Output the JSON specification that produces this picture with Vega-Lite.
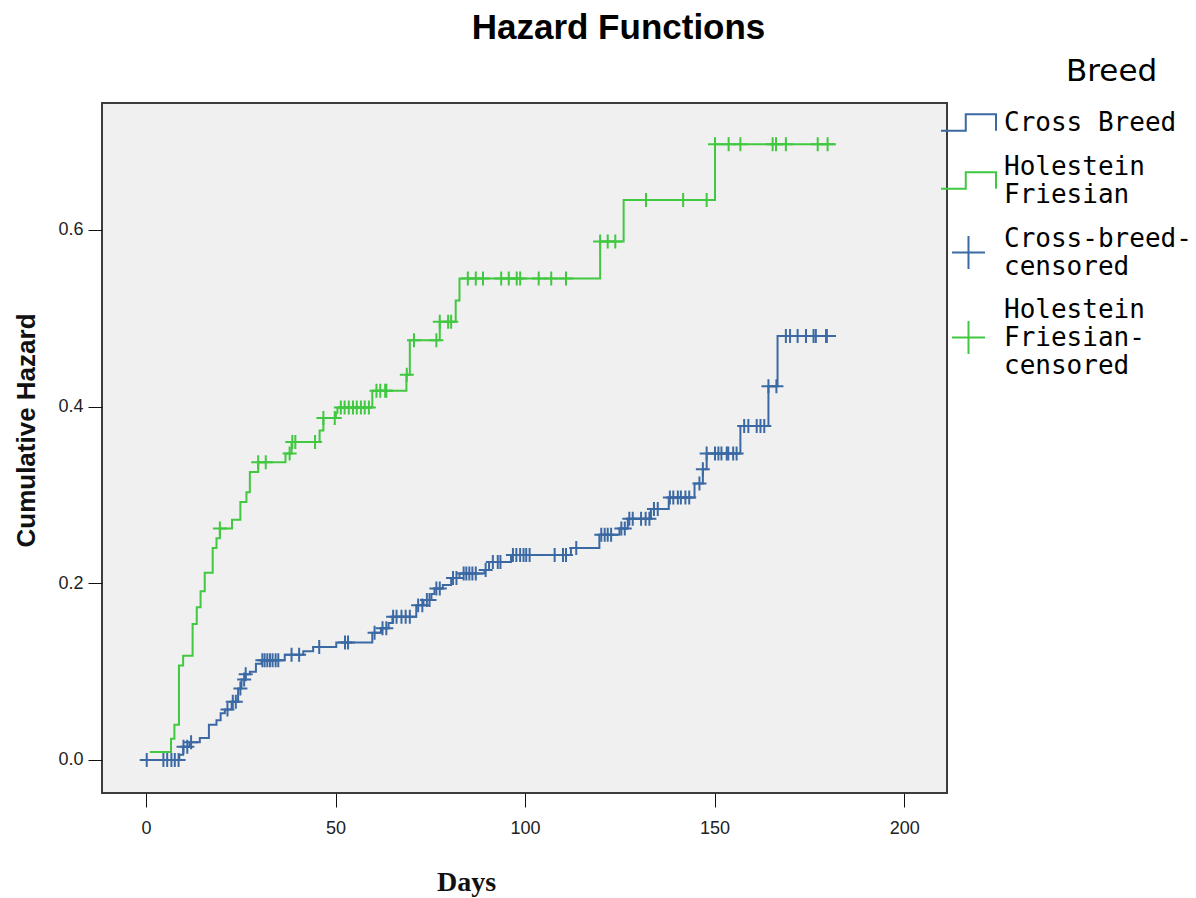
{
  "$schema": "https://vega.github.io/schema/vega-lite/v6.json",
  "width": 845,
  "height": 690,
  "autosize": {"type": "none"},
  "padding": {"left": 102, "top": 103, "right": 249, "bottom": 105},
  "background": "white",
  "title": {"text": "Hazard Functions", "font": "Liberation Sans", "fontSize": 35, "fontWeight": "bold", "color": "#000", "anchor": "middle", "frame": "group", "dx": 94, "dy": 27, "baseline": "alphabetic", "offset": 10},
  "config": {"view": {"fill": "#f0f0f0", "stroke": "#3c3c3c", "strokeWidth": 2}},
  "datasets": {
    "steps": [
      {"series": "Holestein Friesian", "day": 1, "hazard": 0.009},
      {"series": "Holestein Friesian", "day": 6.6, "hazard": 0.024},
      {"series": "Holestein Friesian", "day": 7.5, "hazard": 0.040},
      {"series": "Holestein Friesian", "day": 8.7, "hazard": 0.107},
      {"series": "Holestein Friesian", "day": 9.8, "hazard": 0.118},
      {"series": "Holestein Friesian", "day": 12.3, "hazard": 0.154},
      {"series": "Holestein Friesian", "day": 13.4, "hazard": 0.173},
      {"series": "Holestein Friesian", "day": 14.4, "hazard": 0.191},
      {"series": "Holestein Friesian", "day": 15.5, "hazard": 0.212},
      {"series": "Holestein Friesian", "day": 17.6, "hazard": 0.240},
      {"series": "Holestein Friesian", "day": 18.6, "hazard": 0.251},
      {"series": "Holestein Friesian", "day": 19.5, "hazard": 0.262},
      {"series": "Holestein Friesian", "day": 22.7, "hazard": 0.272},
      {"series": "Holestein Friesian", "day": 24.9, "hazard": 0.292},
      {"series": "Holestein Friesian", "day": 26.5, "hazard": 0.303},
      {"series": "Holestein Friesian", "day": 27.4, "hazard": 0.326},
      {"series": "Holestein Friesian", "day": 29.6, "hazard": 0.337},
      {"series": "Holestein Friesian", "day": 36.8, "hazard": 0.347},
      {"series": "Holestein Friesian", "day": 38.4, "hazard": 0.360},
      {"series": "Holestein Friesian", "day": 45.8, "hazard": 0.373},
      {"series": "Holestein Friesian", "day": 46.8, "hazard": 0.387},
      {"series": "Holestein Friesian", "day": 50.1, "hazard": 0.393},
      {"series": "Holestein Friesian", "day": 50.5, "hazard": 0.399},
      {"series": "Holestein Friesian", "day": 59.7, "hazard": 0.418},
      {"series": "Holestein Friesian", "day": 68.7, "hazard": 0.436},
      {"series": "Holestein Friesian", "day": 69.6, "hazard": 0.475},
      {"series": "Holestein Friesian", "day": 77.5, "hazard": 0.496},
      {"series": "Holestein Friesian", "day": 81.7, "hazard": 0.520},
      {"series": "Holestein Friesian", "day": 82.7, "hazard": 0.545},
      {"series": "Holestein Friesian", "day": 119.8, "hazard": 0.587},
      {"series": "Holestein Friesian", "day": 126.0, "hazard": 0.634},
      {"series": "Holestein Friesian", "day": 150.1, "hazard": 0.697},
      {"series": "Holestein Friesian", "day": 182, "hazard": 0.697},
      {"series": "Cross Breed", "day": 0, "hazard": 0},
      {"series": "Cross Breed", "day": 8.8, "hazard": 0.006},
      {"series": "Cross Breed", "day": 9.8, "hazard": 0.015},
      {"series": "Cross Breed", "day": 11.5, "hazard": 0.020},
      {"series": "Cross Breed", "day": 14.2, "hazard": 0.025},
      {"series": "Cross Breed", "day": 16.6, "hazard": 0.040},
      {"series": "Cross Breed", "day": 18.6, "hazard": 0.045},
      {"series": "Cross Breed", "day": 19.7, "hazard": 0.053},
      {"series": "Cross Breed", "day": 20.8, "hazard": 0.057},
      {"series": "Cross Breed", "day": 22.6, "hazard": 0.066},
      {"series": "Cross Breed", "day": 24.3, "hazard": 0.081},
      {"series": "Cross Breed", "day": 25.2, "hazard": 0.091},
      {"series": "Cross Breed", "day": 26.3, "hazard": 0.097},
      {"series": "Cross Breed", "day": 27.4, "hazard": 0.100},
      {"series": "Cross Breed", "day": 29.0, "hazard": 0.109},
      {"series": "Cross Breed", "day": 30.5, "hazard": 0.113},
      {"series": "Cross Breed", "day": 36.6, "hazard": 0.119},
      {"series": "Cross Breed", "day": 41.5, "hazard": 0.123},
      {"series": "Cross Breed", "day": 44.1, "hazard": 0.128},
      {"series": "Cross Breed", "day": 50.2, "hazard": 0.133},
      {"series": "Cross Breed", "day": 59.7, "hazard": 0.144},
      {"series": "Cross Breed", "day": 62.0, "hazard": 0.149},
      {"series": "Cross Breed", "day": 64.0, "hazard": 0.155},
      {"series": "Cross Breed", "day": 65.0, "hazard": 0.162},
      {"series": "Cross Breed", "day": 71.3, "hazard": 0.175},
      {"series": "Cross Breed", "day": 73.2, "hazard": 0.181},
      {"series": "Cross Breed", "day": 75.3, "hazard": 0.188},
      {"series": "Cross Breed", "day": 76.1, "hazard": 0.194},
      {"series": "Cross Breed", "day": 78.3, "hazard": 0.198},
      {"series": "Cross Breed", "day": 80.5, "hazard": 0.206},
      {"series": "Cross Breed", "day": 82.7, "hazard": 0.211},
      {"series": "Cross Breed", "day": 89.3, "hazard": 0.215},
      {"series": "Cross Breed", "day": 90.5, "hazard": 0.224},
      {"series": "Cross Breed", "day": 96.3, "hazard": 0.232},
      {"series": "Cross Breed", "day": 112.1, "hazard": 0.240},
      {"series": "Cross Breed", "day": 119.6, "hazard": 0.255},
      {"series": "Cross Breed", "day": 124.9, "hazard": 0.262},
      {"series": "Cross Breed", "day": 127.1, "hazard": 0.273},
      {"series": "Cross Breed", "day": 133.2, "hazard": 0.284},
      {"series": "Cross Breed", "day": 137.9, "hazard": 0.297},
      {"series": "Cross Breed", "day": 144.7, "hazard": 0.313},
      {"series": "Cross Breed", "day": 146.9, "hazard": 0.329},
      {"series": "Cross Breed", "day": 147.9, "hazard": 0.347},
      {"series": "Cross Breed", "day": 156.8, "hazard": 0.378},
      {"series": "Cross Breed", "day": 164.2, "hazard": 0.423},
      {"series": "Cross Breed", "day": 166.6, "hazard": 0.480},
      {"series": "Cross Breed", "day": 182, "hazard": 0.480}
    ],
    "cens": [
      {"series": "Holestein Friesian-censored", "day": 19.5, "hazard": 0.262},
      {"series": "Holestein Friesian-censored", "day": 29.6, "hazard": 0.337},
      {"series": "Holestein Friesian-censored", "day": 31.6, "hazard": 0.337},
      {"series": "Holestein Friesian-censored", "day": 37.9, "hazard": 0.347},
      {"series": "Holestein Friesian-censored", "day": 38.6, "hazard": 0.360},
      {"series": "Holestein Friesian-censored", "day": 39.4, "hazard": 0.360},
      {"series": "Holestein Friesian-censored", "day": 44.6, "hazard": 0.360},
      {"series": "Holestein Friesian-censored", "day": 46.8, "hazard": 0.387},
      {"series": "Holestein Friesian-censored", "day": 49.8, "hazard": 0.387},
      {"series": "Holestein Friesian-censored", "day": 51.4, "hazard": 0.399},
      {"series": "Holestein Friesian-censored", "day": 52.4, "hazard": 0.399},
      {"series": "Holestein Friesian-censored", "day": 53.5, "hazard": 0.399},
      {"series": "Holestein Friesian-censored", "day": 54.6, "hazard": 0.399},
      {"series": "Holestein Friesian-censored", "day": 55.6, "hazard": 0.399},
      {"series": "Holestein Friesian-censored", "day": 56.7, "hazard": 0.399},
      {"series": "Holestein Friesian-censored", "day": 57.7, "hazard": 0.399},
      {"series": "Holestein Friesian-censored", "day": 58.8, "hazard": 0.399},
      {"series": "Holestein Friesian-censored", "day": 60.8, "hazard": 0.418},
      {"series": "Holestein Friesian-censored", "day": 61.8, "hazard": 0.418},
      {"series": "Holestein Friesian-censored", "day": 63.1, "hazard": 0.418},
      {"series": "Holestein Friesian-censored", "day": 63.4, "hazard": 0.418},
      {"series": "Holestein Friesian-censored", "day": 68.8, "hazard": 0.436},
      {"series": "Holestein Friesian-censored", "day": 70.7, "hazard": 0.475},
      {"series": "Holestein Friesian-censored", "day": 76.6, "hazard": 0.475},
      {"series": "Holestein Friesian-censored", "day": 77.5, "hazard": 0.496},
      {"series": "Holestein Friesian-censored", "day": 79.7, "hazard": 0.496},
      {"series": "Holestein Friesian-censored", "day": 80.5, "hazard": 0.496},
      {"series": "Holestein Friesian-censored", "day": 84.9, "hazard": 0.545},
      {"series": "Holestein Friesian-censored", "day": 87.0, "hazard": 0.545},
      {"series": "Holestein Friesian-censored", "day": 88.9, "hazard": 0.545},
      {"series": "Holestein Friesian-censored", "day": 93.7, "hazard": 0.545},
      {"series": "Holestein Friesian-censored", "day": 95.7, "hazard": 0.545},
      {"series": "Holestein Friesian-censored", "day": 97.8, "hazard": 0.545},
      {"series": "Holestein Friesian-censored", "day": 98.7, "hazard": 0.545},
      {"series": "Holestein Friesian-censored", "day": 103.6, "hazard": 0.545},
      {"series": "Holestein Friesian-censored", "day": 106.9, "hazard": 0.545},
      {"series": "Holestein Friesian-censored", "day": 110.8, "hazard": 0.545},
      {"series": "Holestein Friesian-censored", "day": 119.8, "hazard": 0.587},
      {"series": "Holestein Friesian-censored", "day": 121.8, "hazard": 0.587},
      {"series": "Holestein Friesian-censored", "day": 123.8, "hazard": 0.587},
      {"series": "Holestein Friesian-censored", "day": 131.9, "hazard": 0.634},
      {"series": "Holestein Friesian-censored", "day": 141.7, "hazard": 0.634},
      {"series": "Holestein Friesian-censored", "day": 147.9, "hazard": 0.634},
      {"series": "Holestein Friesian-censored", "day": 150.1, "hazard": 0.697},
      {"series": "Holestein Friesian-censored", "day": 153.7, "hazard": 0.697},
      {"series": "Holestein Friesian-censored", "day": 156.8, "hazard": 0.697},
      {"series": "Holestein Friesian-censored", "day": 165.3, "hazard": 0.697},
      {"series": "Holestein Friesian-censored", "day": 166.2, "hazard": 0.697},
      {"series": "Holestein Friesian-censored", "day": 168.8, "hazard": 0.697},
      {"series": "Holestein Friesian-censored", "day": 177.2, "hazard": 0.697},
      {"series": "Holestein Friesian-censored", "day": 179.8, "hazard": 0.697},
      {"series": "Cross-breed-censored", "day": 0.2, "hazard": 0},
      {"series": "Cross-breed-censored", "day": 4.6, "hazard": 0},
      {"series": "Cross-breed-censored", "day": 5.6, "hazard": 0},
      {"series": "Cross-breed-censored", "day": 6.7, "hazard": 0},
      {"series": "Cross-breed-censored", "day": 7.6, "hazard": 0},
      {"series": "Cross-breed-censored", "day": 8.6, "hazard": 0},
      {"series": "Cross-breed-censored", "day": 9.9, "hazard": 0.015},
      {"series": "Cross-breed-censored", "day": 10.9, "hazard": 0.015},
      {"series": "Cross-breed-censored", "day": 11.9, "hazard": 0.020},
      {"series": "Cross-breed-censored", "day": 21.5, "hazard": 0.057},
      {"series": "Cross-breed-censored", "day": 22.9, "hazard": 0.066},
      {"series": "Cross-breed-censored", "day": 23.7, "hazard": 0.066},
      {"series": "Cross-breed-censored", "day": 24.9, "hazard": 0.081},
      {"series": "Cross-breed-censored", "day": 25.9, "hazard": 0.091},
      {"series": "Cross-breed-censored", "day": 26.3, "hazard": 0.097},
      {"series": "Cross-breed-censored", "day": 30.7, "hazard": 0.113},
      {"series": "Cross-breed-censored", "day": 31.3, "hazard": 0.113},
      {"series": "Cross-breed-censored", "day": 32.0, "hazard": 0.113},
      {"series": "Cross-breed-censored", "day": 32.7, "hazard": 0.113},
      {"series": "Cross-breed-censored", "day": 33.4, "hazard": 0.113},
      {"series": "Cross-breed-censored", "day": 34.2, "hazard": 0.113},
      {"series": "Cross-breed-censored", "day": 34.9, "hazard": 0.113},
      {"series": "Cross-breed-censored", "day": 38.4, "hazard": 0.119},
      {"series": "Cross-breed-censored", "day": 40.4, "hazard": 0.119},
      {"series": "Cross-breed-censored", "day": 45.7, "hazard": 0.128},
      {"series": "Cross-breed-censored", "day": 52.5, "hazard": 0.133},
      {"series": "Cross-breed-censored", "day": 53.3, "hazard": 0.133},
      {"series": "Cross-breed-censored", "day": 60.3, "hazard": 0.144},
      {"series": "Cross-breed-censored", "day": 62.4, "hazard": 0.149},
      {"series": "Cross-breed-censored", "day": 63.4, "hazard": 0.149},
      {"series": "Cross-breed-censored", "day": 65.2, "hazard": 0.162},
      {"series": "Cross-breed-censored", "day": 66.1, "hazard": 0.162},
      {"series": "Cross-breed-censored", "day": 67.4, "hazard": 0.162},
      {"series": "Cross-breed-censored", "day": 68.5, "hazard": 0.162},
      {"series": "Cross-breed-censored", "day": 69.6, "hazard": 0.162},
      {"series": "Cross-breed-censored", "day": 71.8, "hazard": 0.175},
      {"series": "Cross-breed-censored", "day": 72.9, "hazard": 0.175},
      {"series": "Cross-breed-censored", "day": 74.1, "hazard": 0.181},
      {"series": "Cross-breed-censored", "day": 74.8, "hazard": 0.181},
      {"series": "Cross-breed-censored", "day": 76.6, "hazard": 0.194},
      {"series": "Cross-breed-censored", "day": 77.5, "hazard": 0.194},
      {"series": "Cross-breed-censored", "day": 81.0, "hazard": 0.206},
      {"series": "Cross-breed-censored", "day": 81.9, "hazard": 0.206},
      {"series": "Cross-breed-censored", "day": 83.8, "hazard": 0.211},
      {"series": "Cross-breed-censored", "day": 84.5, "hazard": 0.211},
      {"series": "Cross-breed-censored", "day": 85.3, "hazard": 0.211},
      {"series": "Cross-breed-censored", "day": 86.1, "hazard": 0.211},
      {"series": "Cross-breed-censored", "day": 87.0, "hazard": 0.211},
      {"series": "Cross-breed-censored", "day": 89.6, "hazard": 0.215},
      {"series": "Cross-breed-censored", "day": 91.5, "hazard": 0.224},
      {"series": "Cross-breed-censored", "day": 92.8, "hazard": 0.224},
      {"series": "Cross-breed-censored", "day": 93.5, "hazard": 0.224},
      {"series": "Cross-breed-censored", "day": 96.8, "hazard": 0.232},
      {"series": "Cross-breed-censored", "day": 97.7, "hazard": 0.232},
      {"series": "Cross-breed-censored", "day": 98.7, "hazard": 0.232},
      {"series": "Cross-breed-censored", "day": 99.6, "hazard": 0.232},
      {"series": "Cross-breed-censored", "day": 100.3, "hazard": 0.232},
      {"series": "Cross-breed-censored", "day": 101.2, "hazard": 0.232},
      {"series": "Cross-breed-censored", "day": 107.8, "hazard": 0.232},
      {"series": "Cross-breed-censored", "day": 110.0, "hazard": 0.232},
      {"series": "Cross-breed-censored", "day": 110.8, "hazard": 0.232},
      {"series": "Cross-breed-censored", "day": 113.5, "hazard": 0.240},
      {"series": "Cross-breed-censored", "day": 120.1, "hazard": 0.255},
      {"series": "Cross-breed-censored", "day": 121.0, "hazard": 0.255},
      {"series": "Cross-breed-censored", "day": 121.8, "hazard": 0.255},
      {"series": "Cross-breed-censored", "day": 122.7, "hazard": 0.255},
      {"series": "Cross-breed-censored", "day": 125.4, "hazard": 0.262},
      {"series": "Cross-breed-censored", "day": 126.3, "hazard": 0.262},
      {"series": "Cross-breed-censored", "day": 127.5, "hazard": 0.273},
      {"series": "Cross-breed-censored", "day": 128.4, "hazard": 0.273},
      {"series": "Cross-breed-censored", "day": 130.6, "hazard": 0.273},
      {"series": "Cross-breed-censored", "day": 131.8, "hazard": 0.273},
      {"series": "Cross-breed-censored", "day": 132.8, "hazard": 0.273},
      {"series": "Cross-breed-censored", "day": 134.0, "hazard": 0.284},
      {"series": "Cross-breed-censored", "day": 135.0, "hazard": 0.284},
      {"series": "Cross-breed-censored", "day": 138.2, "hazard": 0.297},
      {"series": "Cross-breed-censored", "day": 139.1, "hazard": 0.297},
      {"series": "Cross-breed-censored", "day": 140.3, "hazard": 0.297},
      {"series": "Cross-breed-censored", "day": 141.1, "hazard": 0.297},
      {"series": "Cross-breed-censored", "day": 142.3, "hazard": 0.297},
      {"series": "Cross-breed-censored", "day": 143.3, "hazard": 0.297},
      {"series": "Cross-breed-censored", "day": 146.0, "hazard": 0.313},
      {"series": "Cross-breed-censored", "day": 146.9, "hazard": 0.329},
      {"series": "Cross-breed-censored", "day": 147.9, "hazard": 0.347},
      {"series": "Cross-breed-censored", "day": 150.1, "hazard": 0.347},
      {"series": "Cross-breed-censored", "day": 151.0, "hazard": 0.347},
      {"series": "Cross-breed-censored", "day": 151.8, "hazard": 0.347},
      {"series": "Cross-breed-censored", "day": 153.2, "hazard": 0.347},
      {"series": "Cross-breed-censored", "day": 153.6, "hazard": 0.347},
      {"series": "Cross-breed-censored", "day": 154.9, "hazard": 0.347},
      {"series": "Cross-breed-censored", "day": 155.8, "hazard": 0.347},
      {"series": "Cross-breed-censored", "day": 157.8, "hazard": 0.378},
      {"series": "Cross-breed-censored", "day": 158.9, "hazard": 0.378},
      {"series": "Cross-breed-censored", "day": 161.1, "hazard": 0.378},
      {"series": "Cross-breed-censored", "day": 162.1, "hazard": 0.378},
      {"series": "Cross-breed-censored", "day": 163.1, "hazard": 0.378},
      {"series": "Cross-breed-censored", "day": 164.2, "hazard": 0.423},
      {"series": "Cross-breed-censored", "day": 166.3, "hazard": 0.423},
      {"series": "Cross-breed-censored", "day": 168.8, "hazard": 0.480},
      {"series": "Cross-breed-censored", "day": 169.9, "hazard": 0.480},
      {"series": "Cross-breed-censored", "day": 171.9, "hazard": 0.480},
      {"series": "Cross-breed-censored", "day": 174.1, "hazard": 0.480},
      {"series": "Cross-breed-censored", "day": 176.1, "hazard": 0.480},
      {"series": "Cross-breed-censored", "day": 176.7, "hazard": 0.480},
      {"series": "Cross-breed-censored", "day": 179.4, "hazard": 0.480},
      {"series": "Cross-breed-censored", "day": 179.6, "hazard": 0.480}
    ]
  },
  "layer": [
    {
      "data": {"name": "steps"},
      "mark": {"type": "line", "interpolate": "step-after", "strokeWidth": 2},
      "encoding": {
        "x": {
          "field": "day", "type": "quantitative",
          "scale": {"domain": [-11.6, 211.3], "nice": false, "zero": false},
          "axis": {
            "values": [0, 50, 100, 150, 200], "domain": false, "grid": false,
            "tickSize": 14, "tickColor": "#111", "tickWidth": 1,
            "labelFont": "Liberation Sans", "labelFontSize": 18, "labelColor": "#222", "labelPadding": 12, "labelFlush": false,
            "title": "Days", "titleFont": "Liberation Serif", "titleFontSize": 28, "titleFontWeight": "bold", "titleColor": "#111",
            "titleX": 364, "titleY": 97, "titleAlign": "center", "titleBaseline": "alphabetic"
          }
        },
        "y": {
          "field": "hazard", "type": "quantitative",
          "scale": {"domain": [-0.0374, 0.7437], "nice": false, "zero": false},
          "axis": {
            "values": [0, 0.2, 0.4, 0.6], "format": ".1f", "domain": false, "grid": false,
            "tickSize": 14, "tickColor": "#111", "tickWidth": 1,
            "labelFont": "Liberation Sans", "labelFontSize": 18, "labelColor": "#222", "labelPadding": 5,
            "title": "Cumulative Hazard", "titleFont": "Liberation Sans", "titleFontSize": 26, "titleFontWeight": "bold", "titleColor": "#111",
            "titleX": -76, "titleY": 327, "titleAngle": 270, "titleAlign": "center", "titleBaseline": "middle"
          }
        },
        "stroke": {
          "field": "series", "type": "nominal",
          "scale": {"domain": ["Cross Breed", "Holestein Friesian"], "range": ["#3b69a3", "#40c840"]},
          "legend": null
        }
      }
    },
    {
      "data": {"name": "cens"},
      "mark": {"type": "point", "filled": false, "strokeWidth": 2, "size": 544, "opacity": 1},
      "encoding": {
        "x": {"field": "day", "type": "quantitative"},
        "y": {"field": "hazard", "type": "quantitative"},
        "color": {
          "field": "series", "type": "nominal",
          "scale": {
            "domain": ["Cross Breed", "Holestein Friesian", "Cross-breed-censored", "Holestein Friesian-censored"],
            "range": ["#3b69a3", "#40c840", "#3b69a3", "#40c840"]
          },
          "legend": {
            "orient": "none", "legendX": 838, "legendY": -46, "padding": 0,
            "title": "Breed",
            "titleFont": "DejaVu Sans", "titleFontSize": 31, "titleFontWeight": "normal", "titleColor": "#000", "titlePadding": 6,
            "titleAnchor": "middle", "titleAlign": "left",
            "labelFont": "DejaVu Sans Mono", "labelFontSize": 26, "labelColor": "#000", "labelLimit": 300, "labelOffset": 7,
            "labelBaseline": "middle",
            "labelExpr": "datum.label == 'Holestein Friesian' ? ['Holestein', 'Friesian'] : datum.label == 'Cross-breed-censored' ? ['Cross-breed-', 'censored'] : datum.label == 'Holestein Friesian-censored' ? ['Holestein', 'Friesian-', 'censored'] : datum.label",
            "symbolSize": 3025, "symbolStrokeWidth": 2, "symbolFillColor": "transparent", "rowPadding": 16,
            "encoding": {
              "labels": {
                "dy": {"value": {"expr": "datum.value == 'Holestein Friesian' || datum.value == 'Cross-breed-censored' ? -14 : datum.value == 'Holestein Friesian-censored' ? -28 : 0"}}
              }
            }
          }
        },
        "shape": {
          "field": "series", "type": "nominal",
          "scale": {
            "domain": ["Cross Breed", "Holestein Friesian", "Cross-breed-censored", "Holestein Friesian-censored"],
            "range": ["M-1,0.3H-0.1V-0.3H1V0.3", "M-1,0.3H-0.1V-0.3H1V0.3", "M-0.6,0H0.6M0,-0.6V0.6", "M-0.6,0H0.6M0,-0.6V0.6"]
          }
        }
      }
    }
  ]
}
